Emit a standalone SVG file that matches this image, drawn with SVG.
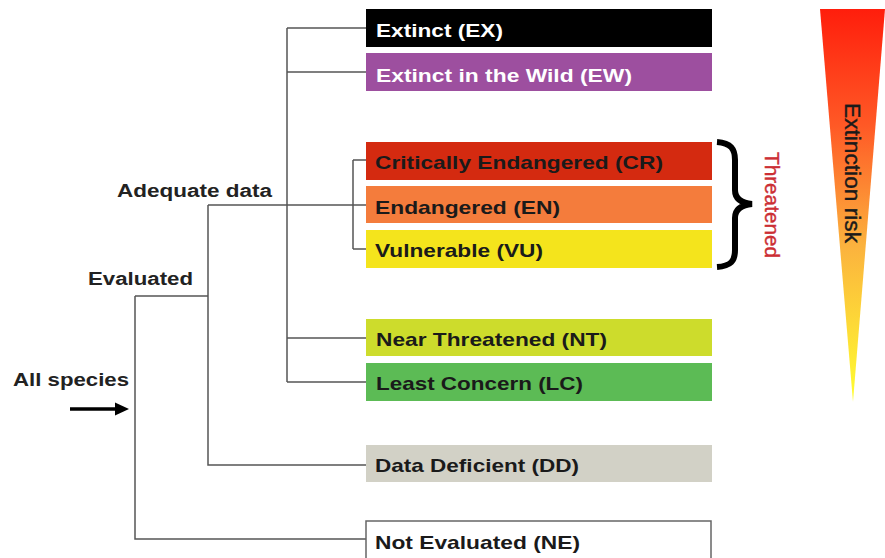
<svg xmlns="http://www.w3.org/2000/svg" width="885" height="558" viewBox="0 0 885 558">
<defs>
<linearGradient id="risk" x1="0" y1="0" x2="0" y2="1">
<stop offset="0" stop-color="#ff1e0c"/>
<stop offset="0.3" stop-color="#ff5a26"/>
<stop offset="0.6" stop-color="#fbb23e"/>
<stop offset="1" stop-color="#ffff30"/>
</linearGradient>
<style>
.box{stroke:none}
.lbl{font-family:"Liberation Sans",Arial,sans-serif;font-weight:bold;font-size:19px;fill:#1a1a1a}
.wlbl{fill:#ffffff}
.side{font-family:"Liberation Sans",Arial,sans-serif;font-weight:bold;font-size:18px;fill:#222}
.conn{fill:none;stroke:#555;stroke-width:1.5}
</style>
</defs>
<rect width="885" height="558" fill="#ffffff"/>

<g id="risk-wedge">
<polygon points="820,9 885,9 853,402" fill="url(#risk)"/>
<text transform="translate(845,103) rotate(90)" font-family="Liberation Sans,Arial,sans-serif" font-size="22" fill="#1a1a1a" stroke="#1a1a1a" stroke-width="0.4" textLength="140" lengthAdjust="spacingAndGlyphs">Extinction risk</text>
</g>

<g id="connectors">
<path class="conn" d="M287,28 V382 M287,28 H366 M287,72 H366 M287,338 H366 M287,382 H366"/>
<path class="conn" d="M208,205 H366 M353,160 V249 M353,160 H366 M353,249 H366"/>
<path class="conn" d="M208,205 V465 H366 M135,296 H208 M135,296 V539 H366"/>
<g id="entry-arrow">
<line x1="70" y1="409" x2="118" y2="409" stroke="#000" stroke-width="3.5"/>
<polygon points="115,402.5 129,409 115,415.5" fill="#000"/>
</g>
</g>

<g id="label-all">
<text class="side" x="13" y="386" textLength="116" lengthAdjust="spacingAndGlyphs">All species</text>
</g>
<g id="label-evaluated">
<text class="side" x="88" y="285" textLength="105" lengthAdjust="spacingAndGlyphs">Evaluated</text>
</g>
<g id="label-adequate">
<text class="side" x="117" y="197" textLength="155" lengthAdjust="spacingAndGlyphs">Adequate data</text>
</g>

<g id="node-EX">
<rect class="box" x="366" y="9" width="346" height="38" fill="#000000"/>
<text class="lbl wlbl" x="376" y="37" textLength="127" lengthAdjust="spacingAndGlyphs">Extinct (EX)</text>
</g>
<g id="node-EW">
<rect class="box" x="366" y="53" width="346" height="38" fill="#9d4f9f"/>
<text class="lbl wlbl" x="376" y="82" textLength="256" lengthAdjust="spacingAndGlyphs">Extinct in the Wild (EW)</text>
</g>
<g id="node-CR">
<rect class="box" x="366" y="142" width="346" height="38" fill="#d42a10"/>
<text class="lbl" x="375" y="169" textLength="288" lengthAdjust="spacingAndGlyphs">Critically Endangered (CR)</text>
</g>
<g id="node-EN">
<rect class="box" x="366" y="186" width="346" height="37" fill="#f47c3c"/>
<text class="lbl" x="375" y="214" textLength="185" lengthAdjust="spacingAndGlyphs">Endangered (EN)</text>
</g>
<g id="node-VU">
<rect class="box" x="366" y="230" width="346" height="38" fill="#f4e41c"/>
<text class="lbl" x="375" y="257" textLength="168" lengthAdjust="spacingAndGlyphs">Vulnerable (VU)</text>
</g>
<g id="threatened-brace">
<path d="M717,142 C731,143 735,149 735,160 V190 C735,199 741,203 752,204 C741,205 735,209 735,218 V250 C735,261 731,266 717,267" fill="none" stroke="#000" stroke-width="6"/>
<text transform="translate(765,152) rotate(90)" font-family="Liberation Sans,Arial,sans-serif" font-size="20" fill="#cc2e34" stroke="#cc2e34" stroke-width="0.4" textLength="106" lengthAdjust="spacingAndGlyphs">Threatened</text>
</g>
<g id="node-NT">
<rect class="box" x="366" y="319" width="346" height="37" fill="#cddc2c"/>
<text class="lbl" x="376" y="346" textLength="231" lengthAdjust="spacingAndGlyphs">Near Threatened (NT)</text>
</g>
<g id="node-LC">
<rect class="box" x="366" y="363" width="346" height="38" fill="#5cbb55"/>
<text class="lbl" x="376" y="390" textLength="207" lengthAdjust="spacingAndGlyphs">Least Concern (LC)</text>
</g>
<g id="node-DD">
<rect class="box" x="366" y="445" width="346" height="37" fill="#d2d1c6"/>
<text class="lbl" x="375" y="472" textLength="204" lengthAdjust="spacingAndGlyphs">Data Deficient (DD)</text>
</g>
<g id="node-NE">
<rect x="366" y="521" width="345" height="40" fill="#ffffff" stroke="#666" stroke-width="1.5"/>
<text class="lbl" x="375" y="549" textLength="205" lengthAdjust="spacingAndGlyphs">Not Evaluated (NE)</text>
</g>
</svg>
